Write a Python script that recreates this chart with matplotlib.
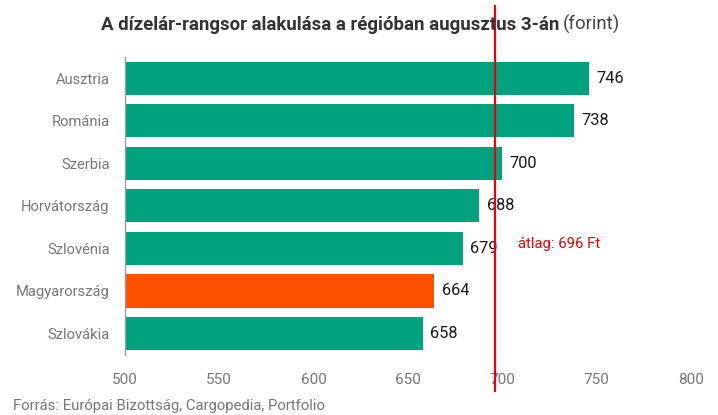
import matplotlib.pyplot as plt

# data
countries = ['Ausztria', 'Románia', 'Szerbia', 'Horvátország', 'Szlovénia', 'Magyarország', 'Szlovákia']
prices = [746, 738, 700, 688, 679, 664, 658]
highlight = 'Magyarország'
average = 696
xticks = [500, 550, 600, 650, 700, 750, 800]

plt.rcParams['font.family'] = ['Roboto', 'DejaVu Sans']

green = '#00A37E'
orange = '#FF5000'
grey = '#777777'
red = '#F00000'

fig = plt.figure(figsize=(7.18, 4.15), dpi=100)
ax = fig.add_axes([0.174, 0.145, 0.788, 0.718])

colors = [orange if c == highlight else green for c in countries]
ypos = list(range(len(countries)))
ax.barh(ypos, [p - 500 for p in prices], left=500, height=0.78, color=colors)

# value labels
for y, p in zip(ypos, prices):
    ax.text(p + 4, y, str(p), va='center', ha='left', fontsize=11.8, color='#1a1a1a')

ax.set_xlim(500, 800)
ax.set_ylim(len(countries) - 0.5, -0.5)
ax.set_yticks(ypos)
ax.set_yticklabels(countries, fontsize=10.6, color=grey)
ax.set_xticks(xticks)
ax.set_xticklabels([str(t) for t in xticks], fontsize=11, color=grey)
ax.tick_params(axis='y', length=0, pad=11)
ax.tick_params(axis='x', length=0, pad=13)

for s in ['top', 'right', 'bottom']:
    ax.spines[s].set_visible(False)
ax.spines['left'].set_color('#999999')
ax.spines['left'].set_linewidth(1)

# average line
ax.axvline(average, ymin=-0.12, ymax=1.17, color=red, lw=1.6, clip_on=False, zorder=5)
ax.text(average + 12.5, 3.9, 'átlag: 696 Ft', color=red, fontsize=10.7, va='center', ha='left')

# title: bold part + normal part
t1 = fig.text(0.14, 0.94, 'A dízelár-rangsor alakulása a régióban augusztus 3-án', fontsize=13.4,
              fontweight='bold', color='#333333', ha='left', va='center')
fig.canvas.draw()
bb = t1.get_window_extent()
t2 = fig.text(bb.x1 / fig.bbox.width + 0.006, 0.94, '(forint)', fontsize=13.4,
              color='#444444', ha='left', va='center')

fig.text(0.018, 0.005, 'Forrás: Európai Bizottság, Cargopedia, Portfolio', fontsize=10.7,
         color=grey, ha='left', va='bottom')

fig.savefig('out.png', dpi=100)
